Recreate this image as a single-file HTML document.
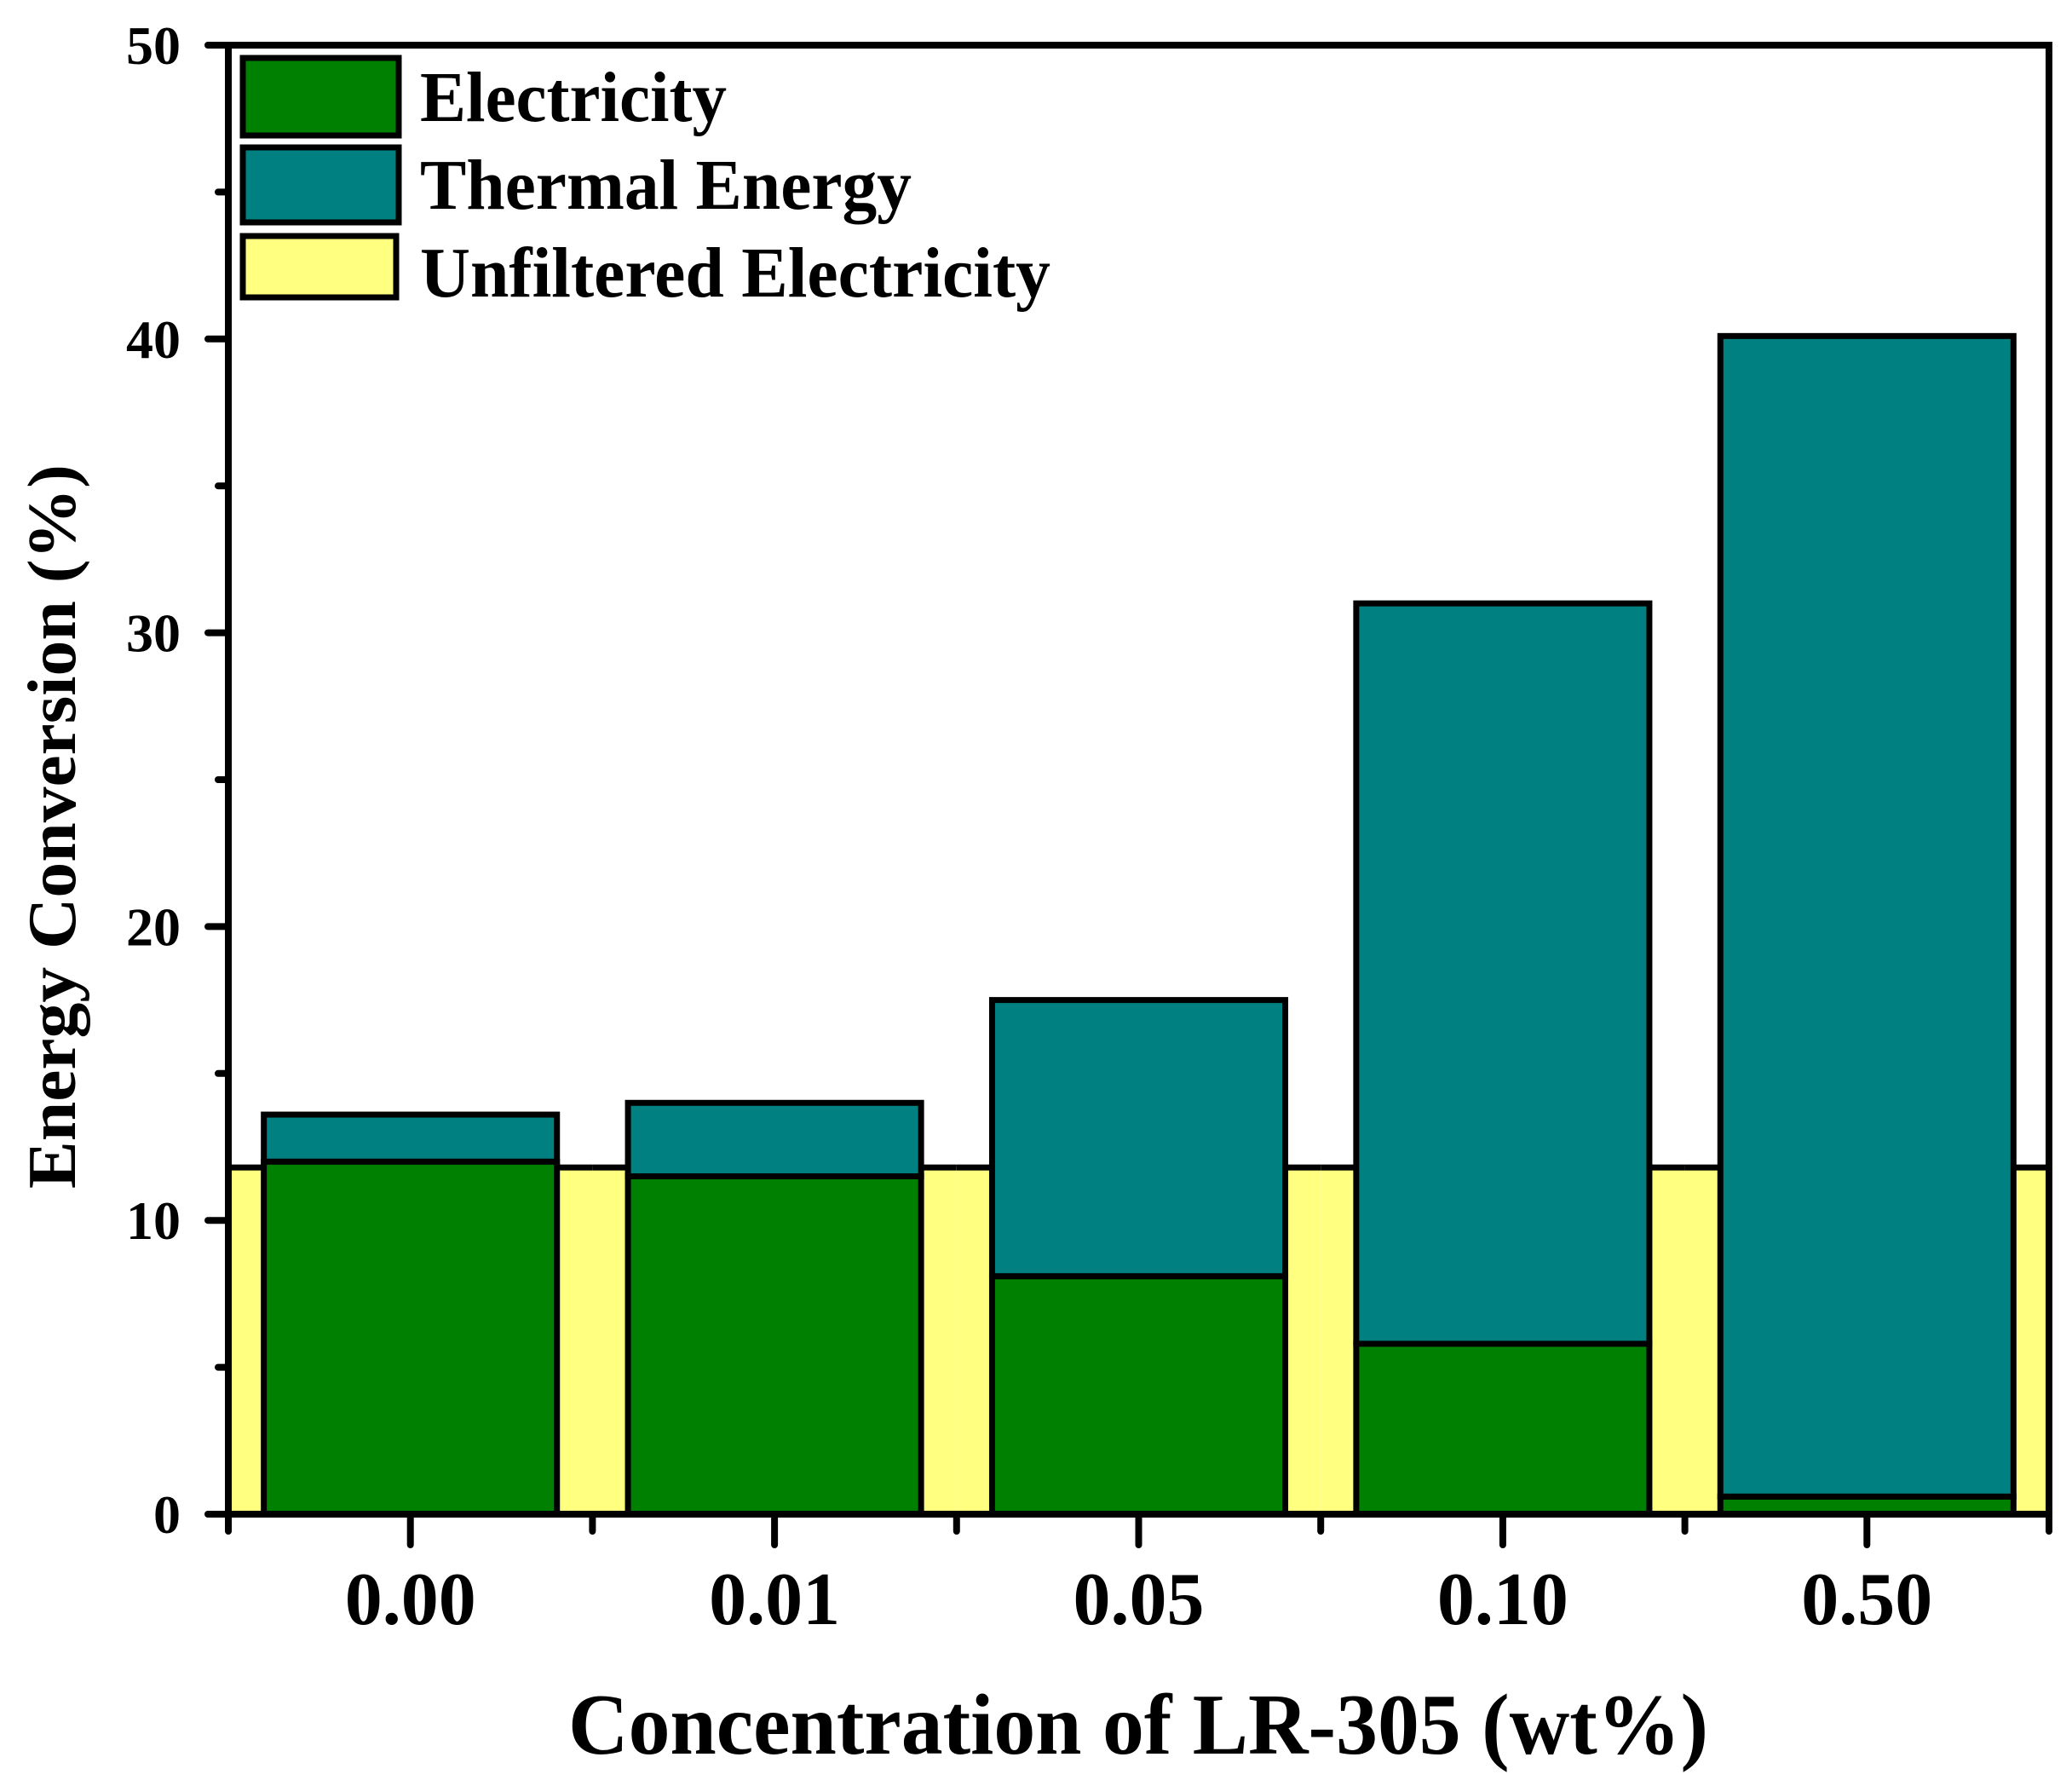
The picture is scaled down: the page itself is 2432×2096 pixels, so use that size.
<!DOCTYPE html>
<html><head><meta charset="utf-8"><style>
html,body{margin:0;padding:0;background:#fff;}
svg{display:block;font-family:"Liberation Serif",serif;font-weight:bold;}
</style></head><body>
<svg id="chart" width="2432" height="2096" viewBox="0 0 2432 2096" xmlns="http://www.w3.org/2000/svg">
<g id="yellow"></g>
<g id="bars"></g>
<g id="axes"></g>
<g>
  <g>
    <rect x="285" y="68" width="183" height="91" fill="#008000" stroke="#000" stroke-width="7"/>
    <text x="493" y="142" font-size="84" textLength="360" lengthAdjust="spacingAndGlyphs">Electricity</text>
  </g>
  <g>
    <rect x="285" y="173" width="183" height="88" fill="#008080" stroke="#000" stroke-width="7"/>
    <text x="493" y="245" font-size="84" textLength="577" lengthAdjust="spacingAndGlyphs">Thermal Energy</text>
  </g>
  <g>
    <rect x="285" y="277" width="180" height="72" fill="#ffff80" stroke="#000" stroke-width="7"/>
    <text x="493" y="348" font-size="84" textLength="740" lengthAdjust="spacingAndGlyphs">Unfiltered Electricity</text>
  </g>
</g>
<text x="1336" y="2058" font-size="102" text-anchor="middle" textLength="1338" lengthAdjust="spacingAndGlyphs">Concentration of LR-305 (wt%)</text>
<text transform="translate(88,970) rotate(-90)" font-size="80" text-anchor="middle" textLength="850" lengthAdjust="spacingAndGlyphs">Energy Conversion (%)</text>
</svg>
<script>
const categories = ["0.00","0.01","0.05","0.10","0.50"];
const electricity = [12.0, 11.5, 8.1, 5.8, 0.6];
const thermal = [1.6, 2.5, 9.4, 25.2, 39.5];
const unfiltered = [11.8, 11.8, 11.8, 11.8, 11.8];
const yTicks = [0,10,20,30,40,50];
const yMinorTicks = [5,15,25,35,45];

const NS = "http://www.w3.org/2000/svg";
const X0 = 268, X1 = 2405, Y0 = 1777, Y1 = 53, YMAX = 50;
const band = (X1 - X0) / categories.length;
function y(v){ return Y0 - (v / YMAX) * (Y0 - Y1); }
function xc(i){ return X0 + band * (i + 0.5); }
function mk(tag, attrs, parent){
  const e = document.createElementNS(NS, tag);
  for (const k in attrs) e.setAttribute(k, attrs[k]);
  parent.appendChild(e);
  return e;
}
const gY = document.getElementById('yellow');
const gB = document.getElementById('bars');
const gA = document.getElementById('axes');
const bw = band * 0.805;

unfiltered.forEach((v,i)=>{
  const r = mk('rect',{x:X0+band*i, y:y(v), width:band, height:Y0-y(v), fill:'#ffff80'}, gY);
  
  
  const l = mk('line',{x1:X0+band*i, x2:X0+band*(i+1), y1:y(v), y2:y(v), stroke:'#000', 'stroke-width':7}, gY);
  
  
});
electricity.forEach((v,i)=>{
  const r = mk('rect',{x:xc(i)-bw/2, y:y(v), width:bw, height:Y0-y(v), fill:'#008000', stroke:'#000', 'stroke-width':7}, gB);
  
  
  const t = thermal[i];
  const r2 = mk('rect',{x:xc(i)-bw/2, y:y(v+t), width:bw, height:y(v)-y(v+t), fill:'#008080', stroke:'#000', 'stroke-width':7}, gB);
  
  
});

const fr = mk('path',{d:`M${X0},${Y1} H${X1} V${Y0} H${X0} Z`, fill:'none', stroke:'#000', 'stroke-width':8}, gA);



yTicks.forEach(v=>{
  const l = mk('line',{x1:X0-24, x2:X0, y1:y(v), y2:y(v), stroke:'#000', 'stroke-width':8, 'stroke-linecap':'round'}, gA);
  
  
  const t = mk('text',{x:212, y:y(v)+22, 'font-size':64, 'text-anchor':'end'}, gA);
  t.textContent = String(v);
  
  
});
yMinorTicks.forEach(v=>{
  const l = mk('line',{x1:X0-12, x2:X0, y1:y(v), y2:y(v), stroke:'#000', 'stroke-width':8, 'stroke-linecap':'round'}, gA);
  
  
});
categories.forEach((c,i)=>{
  const l = mk('line',{x1:xc(i), x2:xc(i), y1:Y0, y2:Y0+36, stroke:'#000', 'stroke-width':8, 'stroke-linecap':'round'}, gA);
  
  
  const t = mk('text',{x:xc(i), y:1906, 'font-size':88, 'text-anchor':'middle'}, gA);
  t.textContent = c;
  
  
});
for (let i=0;i<=categories.length;i++){
  const l = mk('line',{x1:X0+band*i, x2:X0+band*i, y1:Y0, y2:Y0+20, stroke:'#000', 'stroke-width':8, 'stroke-linecap':'round'}, gA);
  
  
}
</script>
</body></html>
